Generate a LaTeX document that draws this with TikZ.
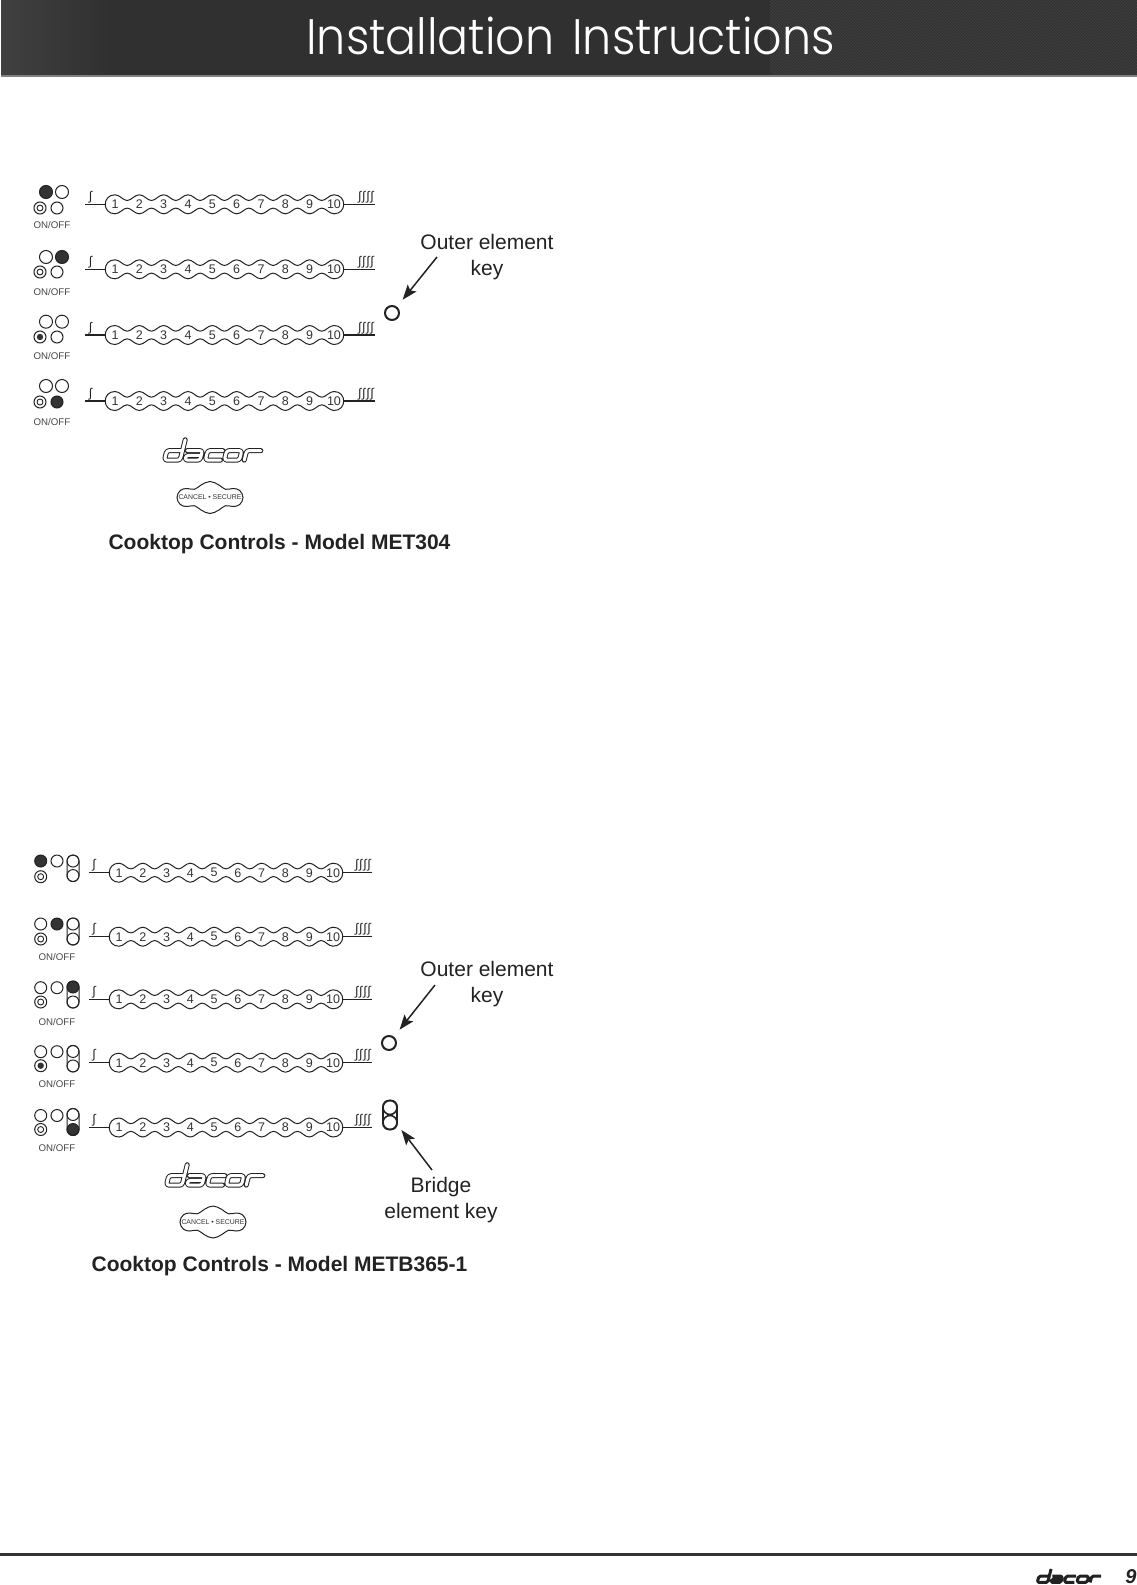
\documentclass[tikz,border=0pt]{standalone}
\usepackage{fontspec}
\setmainfont{Liberation Sans}
\newfontface\titlefont{Poppins Light}
\usetikzlibrary{arrows.meta}
\definecolor{ink}{HTML}{222222}
\definecolor{dark}{HTML}{333333}
\definecolor{barbase}{HTML}{303030}
\definecolor{barhatch}{HTML}{404040}
\tikzset{
  dotoff/.style={circle,draw=ink,line width=1pt,minimum size=13pt,inner sep=0pt},
  doton/.style={dotoff,fill=dark},
  ringoff/.style={circle,draw=ink,line width=1pt,minimum size=12pt,inner sep=0pt},
  num/.style={circle,minimum size=19pt,inner sep=0pt,font=\fontsize{12.5}{14}\selectfont,text=dark},
  heat/.style={inner sep=0pt,font=\fontsize{12.5}{14}\selectfont,text=ink},
  onoff/.style={inner sep=0pt,font=\fontsize{9.7}{11}\selectfont,text=dark!90},
  label/.style={inner sep=0pt,align=center,font=\fontsize{21}{26}\selectfont,text=ink},
  caption/.style={inner sep=0pt,font=\bfseries\fontsize{21}{25}\selectfont,text=ink},
  keylink/.style={draw=ink,line width=1.5pt,-{Stealth[length=15pt,width=11pt,inset=3pt]}},
  wire/.style={draw=ink,line width=1.3pt},
  pillbody/.style={draw=ink,line width=1pt,inner sep=0pt,rounded corners=6pt},
  blob/.style={draw=ink,line width=1pt},
  cancel/.style={inner sep=0pt,font=\fontsize{6.9}{8}\selectfont,text=dark}
}
% name, x of 1, step, y, x of left end, x of right end, x left heat, x right heat
\newcommand\slidebar[8]{%
  \draw[ink,line width=1pt]
    ({#2},{#4-9.5})
    foreach \i in {1,...,9} {
      .. controls ({#2+(\i-1)*#3+.2*#3},{#4-9.5}) and ({#2+(\i-1)*#3+.33*#3},{#4-3.8}) .. ({#2+(\i-1)*#3+.5*#3},{#4-3.8})
      .. controls ({#2+(\i-1)*#3+.67*#3},{#4-3.8}) and ({#2+(\i-1)*#3+.8*#3},{#4-9.5}) .. ({#2+\i*#3},{#4-9.5})
    }
    .. controls ({#2+9*#3+13},{#4-9.5}) and ({#2+9*#3+13},{#4+9.5}) .. ({#2+9*#3},{#4+9.5})
    foreach \i in {9,...,1} {
      .. controls ({#2+\i*#3-.2*#3},{#4+9.5}) and ({#2+\i*#3-.33*#3},{#4+3.8}) .. ({#2+\i*#3-.5*#3},{#4+3.8})
      .. controls ({#2+\i*#3-.67*#3},{#4+3.8}) and ({#2+\i*#3-.8*#3},{#4+9.5}) .. ({#2+(\i-1)*#3},{#4+9.5})
    }
    .. controls ({#2-13},{#4+9.5}) and ({#2-13},{#4-9.5}) .. cycle;
  \foreach \i in {1,...,10} \node[num] (#1n\i) at ({#2+(\i-1)*#3},#4) {\i};
  \coordinate (#1L) at (#5,#4);
  \coordinate (#1R) at (#6,#4);
  \draw[wire] (#1L) -- (#1n1);
  \draw[wire] (#1n10) -- (#1R);
  \node[heat] (#1hl) at (#7,{#4-7}) {∫};
  \node[heat] (#1hr) at (#8,{#4-7}) {∫\kern.7pt∫\kern.7pt∫\kern.7pt∫};
}
% name, x, y, width, height, state (0 none, 1 top, 2 bottom)
\newcommand\pillkey[7][1pt]{%
  \ifnum#7=1 \fill[dark] (#3,{#4-#6/2+#5/2}) circle[radius=#5/2]; \fi
  \ifnum#7=2 \fill[dark] (#3,{#4+#6/2-#5/2}) circle[radius=#5/2]; \fi
  \node[pillbody,line width=#1,minimum width=#5,minimum height=#6] (#2) at (#3,#4) {};
  \draw[ink,line width=#1] (#3,{#4-#6/2+#5/2}) circle[radius=#5/2];
  \draw[ink,line width=#1] (#3,{#4+#6/2-#5/2}) circle[radius=#5/2];
}
% name, x, y, state (0 ring, 1 active)
\newcommand\targetkey[4]{%
  \node[ringoff] (#1) at (#2,#3) {};
  \ifnum#4=1 \fill[dark] (#2,#3) circle[radius=3.2];
  \else \draw[ink,line width=.9pt] (#2,#3) circle[radius=3]; \fi
}
\newcommand\logopaths{
  (19.5,-24) -- (19.5,-2.5) -- (3,-2.5) -- (3,-12.5) -- (19.5,-12.5)
  (24.5,-12.5) -- (40.5,-12.5) -- (40.5,-2.5) -- (24.5,-2.5) -- (24.5,-7.5) -- (40.5,-7.5)
  (62,-12.5) -- (46,-12.5) -- (46,-2.5) -- (62,-2.5)
  (66,-2.5) -- (66,-12.5) -- (82,-12.5) -- (82,-2.5) -- cycle
  (87,-2.5) -- (87,-12.5) -- (102,-12.5)
}
\newcommand\outlinelogo[3]{%
  \begin{scope}[shift={(#1,#2)},xscale=#3,yscale=#3,xslant=.25,rounded corners=2.5pt,line cap=round,line join=round]
    \draw[ink,line width=5pt] \logopaths;
    \draw[white,line width=3pt] \logopaths;
  \end{scope}
}
\newcommand\solidlogo[3]{%
  \begin{scope}[shift={(#1,#2)},xscale=#3,yscale=#3,xslant=.25,rounded corners=1.5pt,line join=round]
    \draw[ink,line width=3pt] \logopaths;
  \end{scope}
}
\newcommand\cancelblob[4]{% name, x, y, half width; half height 16
  \draw[blob] plot[smooth cycle,tension=.7] coordinates {
    ({#2-#4},#3) ({#2-.9*#4},{#3-7}) ({#2-.7*#4},{#3-9}) ({#2-.47*#4},{#3-8.2}) ({#2-.27*#4},{#3-12.5}) (#2,{#3-16})
    ({#2+.27*#4},{#3-12.5}) ({#2+.47*#4},{#3-8.2}) ({#2+.7*#4},{#3-9}) ({#2+.9*#4},{#3-7}) ({#2+#4},#3)
    ({#2+.9*#4},{#3+7}) ({#2+.7*#4},{#3+9}) ({#2+.47*#4},{#3+8.2}) ({#2+.27*#4},{#3+12.5}) (#2,{#3+16})
    ({#2-.27*#4},{#3+12.5}) ({#2-.47*#4},{#3+8.2}) ({#2-.7*#4},{#3+9}) ({#2-.9*#4},{#3+7})
  };
  \node[cancel] (#1) at (#2,#3) {CANCEL • SECURE};
}
\begin{document}
\begin{tikzpicture}[x=1pt,y=-1pt]
\useasboundingbox (0,0) rectangle (1137,1585);
% header bar
\fill[barbase] (1,0) rectangle (1137,75);
\shade[left color=barhatch,right color=barbase] (1,0) rectangle (110,75);
\begin{scope}
  \clip (770,0) rectangle (1137,75);
  \foreach \x in {700,703,...,1136} \draw[barhatch,line width=1pt] (\x,0) -- ({\x+75},75);
\end{scope}
\fill[gray] (1,75) rectangle (1137,76.5);
\node[inner sep=0pt,text=white] (title) at (570.5,36) {\resizebox{528pt}{37.5pt}{\titlefont Installation\hspace{.12em} Instructions}};
% model 1
\node[doton] (a1a) at (46,192) {}; \node[dotoff] (a1b) at (62,192) {};
\targetkey{a1c}{40}{208}{0} \node[dotoff,minimum size=12pt] (a1d) at (57,208) {};
\node[onoff] (a1o) at (52,225) {ON/OFF};
\slidebar{a1}{115}{24.33}{204.3}{85}{375}{90.5}{366}
\node[dotoff] (a2a) at (46,257) {}; \node[doton] (a2b) at (62,257) {};
\targetkey{a2c}{40}{272}{0} \node[dotoff,minimum size=12pt] (a2d) at (57,272) {};
\node[onoff] (a2o) at (52,292) {ON/OFF};
\slidebar{a2}{115}{24.33}{269.3}{85}{375}{90.5}{366}
\node[dotoff] (a3a) at (46,321.7) {}; \node[dotoff] (a3b) at (62,321.7) {};
\targetkey{a3c}{40}{337}{1} \node[dotoff,minimum size=12pt] (a3d) at (57,337) {};
\node[onoff] (a3o) at (52,355.7) {ON/OFF};
\slidebar{a3}{115}{24.33}{335}{85}{375}{90.5}{366}
\node[dotoff] (a4a) at (46,386) {}; \node[dotoff] (a4b) at (62,386) {};
\targetkey{a4c}{40}{402}{0} \node[doton,minimum size=12pt] (a4d) at (57,402) {};
\node[onoff] (a4o) at (52,421.7) {ON/OFF};
\slidebar{a4}{115}{24.33}{401}{85}{375}{90.5}{366}
\outlinelogo{161}{462.5}{.95}
\cancelblob{acancel}{210}{497.5}{33}
\node[caption] (acap) at (279.5,544.5) {Cooktop Controls - Model MET304};
\node[label] (alabel) at (487,257) {Outer element\\key};
\coordinate (astart) at (437,257);
\node[circle,draw=ink,line width=2pt,minimum size=14pt,inner sep=0pt] (akey) at (392,313) {};
\draw[keylink,shorten >=9pt] (astart) -- (akey);
% model 2
\node[doton,minimum size=12pt] (b1a) at (40.7,861) {}; \node[dotoff,minimum size=12pt] (b1b) at (57,861) {};
\targetkey{b1c}{40.7}{876.7}{0} \pillkey{b1p}{73}{868.3}{12}{26.5}{0}
\slidebar{b1}{119}{23.78}{872.7}{89}{371.7}{94}{363}
\node[dotoff,minimum size=12pt] (b2a) at (40.7,924) {}; \node[doton,minimum size=12pt] (b2b) at (57,924) {};
\targetkey{b2c}{40.7}{939}{0} \pillkey{b2p}{73}{931.5}{12}{27}{0}
\node[onoff] (b2o) at (57,956.7) {ON/OFF};
\slidebar{b2}{119}{23.78}{936.7}{89}{371.7}{94}{363}
\node[dotoff,minimum size=12pt] (b3a) at (40.7,987.7) {}; \node[dotoff,minimum size=12pt] (b3b) at (57,987.7) {};
\targetkey{b3c}{40.7}{1002}{0} \pillkey{b3p}{73}{994.5}{12}{27}{1}
\node[onoff] (b3o) at (57,1022) {ON/OFF};
\slidebar{b3}{119}{23.78}{999.3}{89}{371.7}{94}{363}
\node[dotoff,minimum size=12pt] (b4a) at (40.7,1051.7) {}; \node[dotoff,minimum size=12pt] (b4b) at (57,1051.7) {};
\targetkey{b4c}{40.7}{1065.7}{1} \pillkey{b4p}{73}{1058.7}{12}{26.5}{0}
\node[onoff] (b4o) at (57,1084) {ON/OFF};
\slidebar{b4}{119}{23.78}{1062.7}{89}{371.7}{94}{363}
\node[dotoff,minimum size=12pt] (b5a) at (40.7,1115.5) {}; \node[dotoff,minimum size=12pt] (b5b) at (57,1115.5) {};
\targetkey{b5c}{40.7}{1129.5}{0} \pillkey{b5p}{73}{1122}{12}{27}{2}
\node[onoff] (b5o) at (57,1148) {ON/OFF};
\slidebar{b5}{119}{23.78}{1127.5}{89}{371.7}{94}{363}
\outlinelogo{163}{1187.5}{.95}
\cancelblob{bcancel}{213}{1222}{33}
\node[caption] (bcap) at (279.5,1266.5) {Cooktop Controls - Model METB365-1};
\node[label] (blabel) at (487,984) {Outer element\\key};
\coordinate (bstart) at (435,985);
\node[circle,draw=ink,line width=2pt,minimum size=14pt,inner sep=0pt] (bkey) at (389,1043) {};
\draw[keylink,shorten >=9pt] (bstart) -- (bkey);
\pillkey[1.6pt]{ckey}{390}{1115}{14}{29}{0}
\node[label] (clabel) at (441,1200.5) {Bridge\\element key};
\coordinate (cstart) at (432,1170);
\draw[keylink,shorten >=6pt] (cstart) -- (ckey);
% footer
\fill[dark] (0,1552.5) rectangle (1137,1556);
\solidlogo{1035}{1584}{.63}
\node[inner sep=0pt,text=ink,font=\bfseries\itshape\fontsize{20}{24}\selectfont] (pageno) at (1131,1577) {9};
\end{tikzpicture}
\end{document}
